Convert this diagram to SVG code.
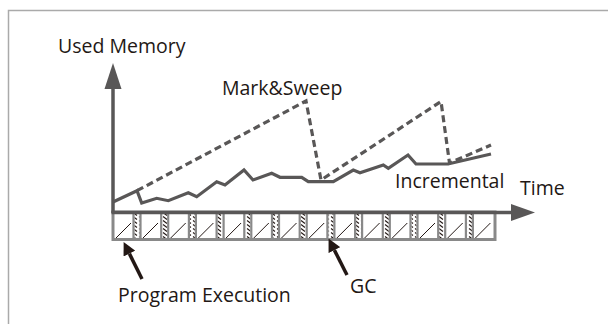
<svg xmlns="http://www.w3.org/2000/svg" width="608" height="324" viewBox="0 0 608 324">
<defs>
<style>
.lbl{font-family:"Open Sans","Liberation Sans",sans-serif;font-size:19.5px;fill:#231815}
.axis{stroke:#595757;stroke-width:3.5;fill:none}
.head{fill:#595757}
.inc{stroke:#595757;stroke-width:3.2;fill:none;stroke-linejoin:miter}
.ms{stroke:#595757;stroke-width:3.2;fill:none;stroke-dasharray:7 4}
.div{stroke:#898989;stroke-width:2.2}
.diag{stroke:#231815;stroke-width:1}
.gc{fill:url(#hatch)}
.ptr{stroke:#231815;stroke-width:3.5;fill:none;marker-end:url(#ptrhead)}
</style>
<pattern id="hatch" patternUnits="userSpaceOnUse" width="6" height="4">
<rect width="6" height="4" fill="#fff"/>
<line x1="1" y1="0.5" x2="5" y2="3.5" stroke="#231815" stroke-width="1.1"/>
</pattern>
<marker id="ptrhead" markerUnits="userSpaceOnUse" viewBox="0 0 13 13" refX="0" refY="6.5" markerWidth="13" markerHeight="13" orient="auto">
<path d="M0,0 L13,6.5 L0,13 z" fill="#231815"/>
</marker>
</defs>
<rect width="608" height="324" fill="#fff"/>
<path d="M8.5,324 V10.5 H608" stroke="#aaaaaa" stroke-width="1.5" fill="none"/>

<g id="timeline-bar">
<rect x="113" y="212" width="382" height="27.5" fill="#fff" stroke="#898989" stroke-width="3"/>
<g id="gc-cells">
<rect class="gc" x="134.5" y="213.5" width="5" height="24.5"/>
<rect class="gc" x="162.2" y="213.5" width="5" height="24.5"/>
<rect class="gc" x="189.9" y="213.5" width="5" height="24.5"/>
<rect class="gc" x="217.6" y="213.5" width="5" height="24.5"/>
<rect class="gc" x="245.3" y="213.5" width="5" height="24.5"/>
<rect class="gc" x="273" y="213.5" width="5" height="24.5"/>
<rect class="gc" x="300.7" y="213.5" width="5" height="24.5"/>
<rect class="gc" x="328.4" y="213.5" width="5" height="24.5"/>
<rect class="gc" x="356.1" y="213.5" width="5" height="24.5"/>
<rect class="gc" x="383.8" y="213.5" width="5" height="24.5"/>
<rect class="gc" x="411.5" y="213.5" width="5" height="24.5"/>
<rect class="gc" x="439.2" y="213.5" width="5" height="24.5"/>
<rect class="gc" x="466.9" y="213.5" width="5" height="24.5"/>
</g>
<g id="dividers">
<path class="div" d="M133.5,212V240M140.5,212V240M161.2,212V240M168.2,212V240M188.9,212V240M195.9,212V240M216.6,212V240M223.6,212V240M244.3,212V240M251.3,212V240M272,212V240M279,212V240M299.7,212V240M306.7,212V240M327.4,212V240M334.4,212V240M355.1,212V240M362.1,212V240M382.8,212V240M389.8,212V240M410.5,212V240M417.5,212V240M438.2,212V240M445.2,212V240M465.9,212V240M472.9,212V240"/>
</g>
<g id="program-cells">
<path class="diag" d="M116,238L131,223M143,238L158,223M170.7,238L185.7,223M198.4,238L213.4,223M226.1,238L241.1,223M253.8,238L268.8,223M281.5,238L296.5,223M309.2,238L324.2,223M336.9,238L351.9,223M364.6,238L379.6,223M392.3,238L407.3,223M420,238L435,223M447.7,238L462.7,223M475.4,238L490.4,223"/>
</g>
</g>

<g id="axes">
<line class="axis" x1="113" y1="213" x2="113" y2="88"/>
<polygon class="head" points="113,63 121.5,89 104.5,89"/>
<line class="axis" x1="111.5" y1="212.5" x2="512" y2="212.5"/>
<polygon class="head" points="535,212.5 511,204 511,221"/>
</g>

<g id="mark-sweep">
<path class="ms" d="M137,190.7 L306,101 L321,180 L441,101.5 L449.5,163 L491,145"/>
</g>
<g id="incremental">
<polyline class="inc" points="113,202 137,190.7 141.7,203 156.7,198.3 168.3,200.7 188.3,192.7 196.7,196.7 216.7,181.7 225,185 244,170 253,180 271.7,173.3 280,177.3 301.7,177.3 308.3,181.7 333.3,181.7 353.3,170 360,172.7 383.3,165 388.3,168.3 408,155 416,164 448,164 491,154"/>
</g>

<g id="labels">
<text id="used-memory" class="lbl" x="58" y="53">Used Memory</text>
<text id="mark-sweep-label" class="lbl" x="222" y="95">Mark&amp;Sweep</text>
<text id="incremental-label" class="lbl" x="395" y="188">Incremental</text>
<text id="time-label" class="lbl" x="520" y="195">Time</text>
<text id="program-execution-label" class="lbl" x="118" y="302">Program Execution</text>
<text id="gc-label" class="lbl" x="350" y="293">GC</text>
</g>

<g id="connectors">
<line class="ptr" x1="142" y1="279" x2="129.4" y2="253.6"/>
<line class="ptr" x1="347" y1="275" x2="334.4" y2="250.1"/>
</g>
</svg>
